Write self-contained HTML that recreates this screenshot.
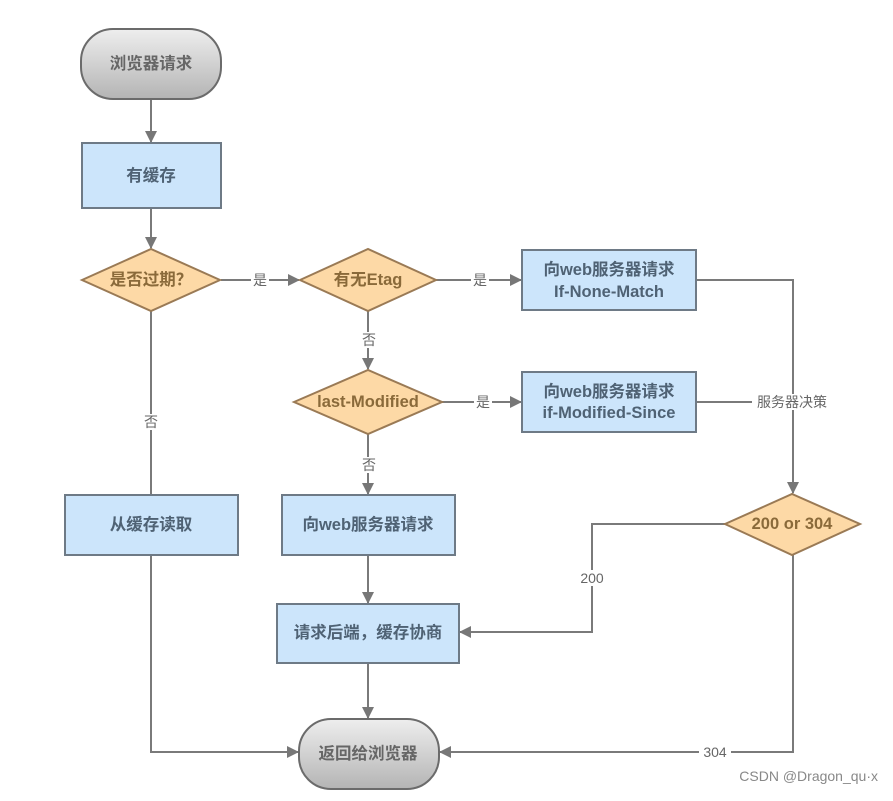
<!DOCTYPE html>
<html><head><meta charset="utf-8"><style>
html,body{margin:0;padding:0;background:#fff;}
svg{display:block;font-family:"Liberation Sans","Noto Sans CJK SC",sans-serif;}
.n{font-weight:bold;font-size:16.5px;text-anchor:middle;dominant-baseline:central;}
.l{font-size:14px;fill:#666;text-anchor:middle;dominant-baseline:central;}
</style></head><body>
<svg width="893" height="801" viewBox="0 0 893 801" xmlns="http://www.w3.org/2000/svg">
<defs>
<linearGradient id="g" x1="0" y1="0" x2="0" y2="1"><stop offset="0" stop-color="#eeeeee"/><stop offset="1" stop-color="#b4b4b4"/></linearGradient>
<marker id="a" markerWidth="12" markerHeight="12" refX="11" refY="6" orient="auto" markerUnits="userSpaceOnUse"><path d="M0,0 L12,6 L0,12 z" fill="#777"/></marker>
</defs>
<g stroke="#7a7a7a" stroke-width="2" fill="none">
<line x1="151" y1="99" x2="151" y2="142" marker-end="url(#a)"/>
<line x1="151" y1="208" x2="151" y2="248" marker-end="url(#a)"/>
<line x1="221" y1="280" x2="299" y2="280" marker-end="url(#a)"/>
<line x1="436" y1="280" x2="521" y2="280" marker-end="url(#a)"/>
<line x1="368" y1="311" x2="368" y2="369" marker-end="url(#a)"/>
<line x1="442" y1="402" x2="521" y2="402" marker-end="url(#a)"/>
<line x1="368" y1="434" x2="368" y2="494" marker-end="url(#a)"/>
<polyline points="151,311 151,752 298,752" marker-end="url(#a)"/>
<polyline points="696,280 793,280 793,493" marker-end="url(#a)"/>
<line x1="696" y1="402" x2="793" y2="402"/>
<polyline points="725,524 592,524 592,632 460,632" marker-end="url(#a)"/>
<polyline points="793,555 793,752 440,752" marker-end="url(#a)"/>
<line x1="368" y1="555" x2="368" y2="603" marker-end="url(#a)"/>
<line x1="368" y1="663" x2="368" y2="718" marker-end="url(#a)"/>
</g>
<g stroke="#6b6b6b" stroke-width="2">
<rect x="81" y="29" width="140" height="70" rx="32" fill="url(#g)"/>
<rect x="299" y="719" width="140" height="70" rx="32" fill="url(#g)"/>
</g>
<g fill="#cce5fb" stroke="#6e7a86" stroke-width="2">
<rect x="82" y="143" width="139" height="65"/>
<rect x="522" y="250" width="174" height="60"/>
<rect x="522" y="372" width="174" height="60"/>
<rect x="65" y="495" width="173" height="60"/>
<rect x="282" y="495" width="173" height="60"/>
<rect x="277" y="604" width="182" height="59"/>
</g>
<g fill="#fdd9a6" stroke="#9a7a55" stroke-width="2">
<polygon points="82,280 151,249 220,280 151,311"/>
<polygon points="300,280 368,249 436,280 368,311"/>
<polygon points="294,402 368,370 442,402 368,434"/>
<polygon points="725,524 792,494 860,524 792,555"/>
</g>
<g class="n" fill="#666">
<text x="151" y="64">浏览器请求</text>
<text x="368" y="754">返回给浏览器</text>
</g>
<g class="n" fill="#4f6274">
<text x="151" y="176">有缓存</text>
<text x="609" y="270">向web服务器请求</text>
<text x="609" y="292">If-None-Match</text>
<text x="609" y="392">向web服务器请求</text>
<text x="609" y="413">if-Modified-Since</text>
<text x="151" y="525">从缓存读取</text>
<text x="368" y="525">向web服务器请求</text>
<text x="368" y="633">请求后端，缓存协商</text>
</g>
<g class="n" fill="#8a6a3a">
<text x="151" y="280">是否过期？</text>
<text x="368" y="280">有无Etag</text>
<text x="368" y="402">last-Modified</text>
<text x="792" y="524">200 or 304</text>
</g>
<g class="l">
<rect x="251" y="272" width="18" height="16" fill="#fff"/><text x="260" y="280">是</text>
<rect x="471" y="272" width="18" height="16" fill="#fff"/><text x="480" y="280">是</text>
<rect x="360" y="332" width="18" height="16" fill="#fff"/><text x="369" y="340">否</text>
<rect x="474" y="394" width="18" height="16" fill="#fff"/><text x="483" y="402">是</text>
<rect x="360" y="457" width="18" height="16" fill="#fff"/><text x="369" y="465">否</text>
<rect x="142" y="414" width="18" height="16" fill="#fff"/><text x="151" y="422">否</text>
<rect x="752" y="394" width="80" height="16" fill="#fff"/><text x="792" y="402">服务器决策</text>
<rect x="577" y="570" width="30" height="16" fill="#fff"/><text x="592" y="578">200</text>
<rect x="699" y="744" width="32" height="16" fill="#fff"/><text x="715" y="752">304</text>
</g>
<text x="878" y="781" font-size="14" fill="#888" text-anchor="end">CSDN @Dragon_qu·x</text>
</svg>
</body></html>
